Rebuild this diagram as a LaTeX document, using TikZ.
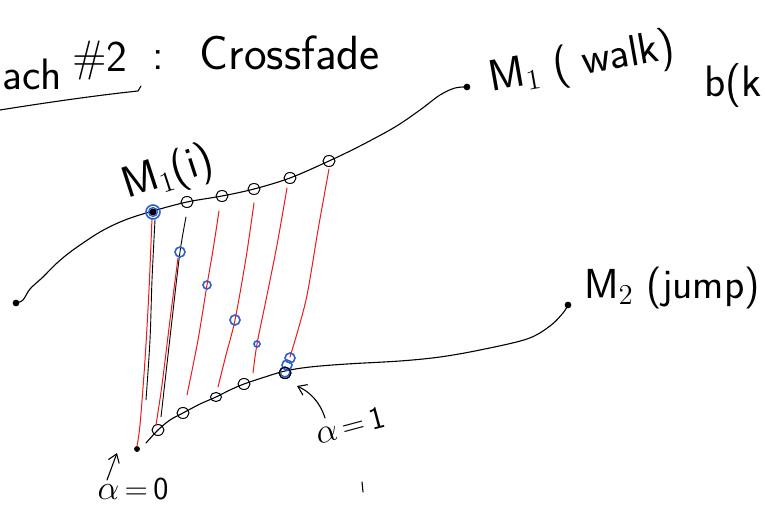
\documentclass[tikz,border=0pt]{standalone}
\usepackage{fontspec}
\usetikzlibrary{arrows.meta,shapes.geometric}
\definecolor{penred}{RGB}{235,25,25}
\definecolor{penblue}{RGB}{45,95,205}
\begin{document}
\begin{tikzpicture}[x=0.5pt,y=-0.5pt,
  ink/.style={black, line width=0.55pt, line cap=round, line join=round},
  redink/.style={penred, line width=0.5pt, line cap=round},
  knot/.style={ellipse, draw=black, line width=0.5pt, inner sep=0, minimum width=6pt, minimum height=5.5pt},
  bluek/.style={circle, draw=penblue, line width=0.8pt, inner sep=0},
  enddot/.style={circle, fill=black, draw=black, line width=0.5pt, inner sep=0, minimum size=2.8pt},
  hand/.style={font=\sffamily\fontsize{22}{24}\selectfont, inner sep=0, text=black},
  handsm/.style={font=\sffamily\fontsize{16}{18}\selectfont, inner sep=0, text=black},
  barb/.style={-{Straight Barb[angle=70:5pt]}}
]
\useasboundingbox (0,0) rectangle (765,507);

% title
\node[hand, anchor=base west] (t1) at (2,90) {ach};
\node[hand, anchor=base] (t2) at (100,72) {\#2};
\node[hand, anchor=base] (t3) at (158,70) {:};
\node[hand, anchor=base, font=\sffamily\fontsize{24}{26}\selectfont] (t4) at (290,70) {Crossfade};
\draw[ink] (0,110) .. controls (50,102) and (100,95) .. (138,91) -- (141,86);

% M1 curve
\node[enddot] (m1s) at (16,303) {};
\node[enddot] (m1e) at (467,87) {};
\draw[ink] plot[smooth, tension=0.55] coordinates {(16,303) (23,300) (30,289) (43,277) (57,263) (73,250) (100,232) (125,220) (153,211) (187,202) (222,196) (254,189) (290,178) (329,161) (360,146) (395,127) (420,110) (440,95) (455,88) (467,87)};

% M2 curve
\node[enddot, minimum size=2.4pt] (m2s) at (137,449) {};
\node[enddot] (m2e) at (568,305) {};
\draw[ink] plot[smooth, tension=0.55] coordinates {(146,443) (158,430) (170,420) (183,413) (200,404) (216,397) (230,390) (244,384) (265,377) (285,371) (310,367) (347,364) (400,361) (440,357) (480,350) (527,339) (550,326) (563,313) (568,305)};

% knots on M1
\node[knot] (a2) at (187,202) {};
\node[knot] (a3) at (222,196) {};
\node[knot] (a4) at (254,189) {};
\node[knot] (a5) at (290,178) {};
\node[knot] (a6) at (329,161) {};
% knots on M2
\node[knot] (b1) at (158,430) {};
\node[knot] (b2) at (183,413) {};
\node[knot, minimum width=5.5pt, minimum height=4.5pt] (b3) at (216,397) {};
\node[knot] (b4) at (244,384) {};
\node[knot] (b5) at (285,373) {};

% lines between
\coordinate (c1) at (137,446);
\coordinate (c2) at (156,425);
\coordinate (c2b) at (161,417);
\coordinate (c3) at (187,395);
\coordinate (c4) at (218,387);
\coordinate (c5) at (253,373);
\coordinate (c6) at (290,357);

\draw[ink, line width=0.45pt] plot[smooth] coordinates {(155,220) (152,280) (150,340) (146,400)};
\draw[redink] plot[smooth] coordinates {(152,218) (149,290) (145,360) (140,425) (c1)};
\draw[ink, line width=0.45pt] plot[smooth] coordinates {(186,217) (180,252) (172,320) (c2b)};
\draw[redink] plot[smooth] coordinates {(178,258) (170,320) (162,385) (c2)};
\draw[redink] plot[smooth] coordinates {(219,211) (213,250) (207,285) (198,340) (c3)};
\draw[redink] plot[smooth] coordinates {(254,203) (246,258) (235,320) (226,355) (c4)};
\draw[redink] plot[smooth] coordinates {(287,188) (277,245) (266,300) (257,344) (c5)};
\draw[redink] plot[smooth] coordinates {(329,169) (318,230) (306,300) (c6)};

% blue marks
\node[bluek, minimum size=7pt] (q1) at (153,212) {};
\node[bluek, minimum size=4.5pt, line width=0.6pt] (q1b) at (153,212) {};
\node[enddot, minimum size=3pt] (q1c) at (153,212) {};
\node[bluek, minimum size=5pt] (q2) at (180,252) {};
\node[bluek, minimum size=4pt] (q3) at (207,285) {};
\node[bluek, minimum size=5pt] (q4) at (235,320) {};
\node[bluek, minimum size=3pt] (q5) at (257,344) {};
\node[bluek, minimum size=5pt] (q6a) at (290,358) {};
\node[bluek, minimum size=5pt] (q6b) at (287,365) {};
\node[bluek, minimum size=5pt] (q6c) at (285,372) {};
\node[knot] (b5b) at (285,373) {};

% labels
\node[hand, rotate=18] (lm1i) at (168,174) {M$_1$(i)};
\node[hand, rotate=10] (lm1) at (582,64) {M$_1$ ( walk)};
\node[hand, anchor=west] (lb) at (704,86) {b(k};
\node[hand, font=\sffamily\fontsize{21}{23}\selectfont] (lm2) at (672,288) {M$_2$ (jump)};

\node[handsm, rotate=15] (al1) at (350,425) {$\alpha$\,=\,1};
\draw[ink, barb] (325,418) .. controls (320,402) and (310,392) .. (297,386);

\node[handsm] (al0) at (133,489) {$\alpha$\,=\,0};
\draw[ink, barb] (107,480) -- (117,453);

\draw[ink] (362,482) -- (363,492);
\end{tikzpicture}
\end{document}
